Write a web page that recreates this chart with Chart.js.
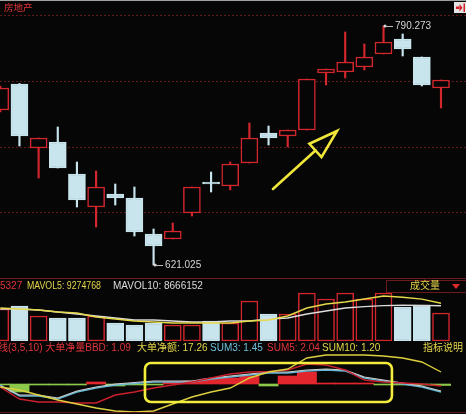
<!DOCTYPE html>
<html>
<head>
<meta charset="utf-8">
<script src="https://cdn.jsdelivr.net/npm/chart.js@4/dist/chart.umd.min.js"></script>
<style>
  html, body { margin: 0; padding: 0; background: #060606; width: 466px; height: 414px; overflow: hidden; }
  canvas { position: absolute; left: 0; }
</style>
</head>
<body>
<canvas id="price" width="466" height="278" style="top:0"></canvas>
<canvas id="vol" width="466" height="63" style="top:278px"></canvas>
<canvas id="ind" width="466" height="73" style="top:341px"></canvas>
<script>
// Daily sessions shown in the window (index = position on the x axis)
const sessions = ['T01','T02','T03','T04','T05','T06','T07','T08','T09','T10','T11','T12',
                  'T13','T14','T15','T16','T17','T18','T19','T20','T21','T22','T23','T24'];

// Real-estate sector index, daily OHLC
const open  = [730.79, 749.20, 703.88, 708.13, 685.47, 662.10, 671.30, 668.47, 642.98, 639.44, 657.85, 679.80,
               676.97, 693.26, 714.50, 712.38, 716.63, 756.99, 757.70, 761.24, 770.44, 781.07, 768.32, 746.37];
const high  = [747.78, 749.55, 710.96, 718.75, 693.97, 687.59, 678.39, 676.26, 646.52, 650.77, 676.26, 686.88,
               693.97, 721.58, 719.46, 716.63, 752.74, 759.82, 786.02, 777.53, 790.273, 784.61, 768.32, 752.03];
const low   = [729.37, 705.30, 682.63, 689.72, 662.10, 647.94, 663.51, 641.56, 621.025, 639.44, 655.73, 672.72,
               674.14, 693.26, 706.00, 704.59, 716.63, 748.49, 753.45, 759.11, 770.44, 769.03, 747.78, 732.21];
const close = [746.37, 712.38, 710.96, 689.72, 667.06, 676.26, 668.47, 644.39, 634.48, 645.10, 676.26, 678.39,
               692.55, 710.96, 710.96, 716.63, 752.74, 759.82, 764.78, 768.32, 778.94, 773.99, 748.49, 752.03];

// Turnover volume and its 5 / 10 day averages
const volume  = [7870000, 8610000, 6150000, 5660000, 5660000, 6150000, 4430000, 3940000, 4430000, 3940000, 3940000, 4920000,
                 4430000, 9840000, 6640000, 6640000, 11810000, 10330000, 11810000, 10330000, 11810000, 8360000, 8860000, 6890000];
const mavol5  = [8120000, 7870000, 7630000, 7130000, 6890000, 5900000, 5410000, 4920000, 4670000, 4430000, 4430000, 4430000,
                 4430000, 4920000, 5170000, 6150000, 8120000, 9100000, 9590000, 10330000, 11070000, 10750000, 10300000, 9274768];
const mavol10 = [7870000, 7870000, 7630000, 7130000, 6640000, 6150000, 5660000, 5170000, 5170000, 4920000, 4670000, 4670000,
                 4920000, 4920000, 5410000, 5660000, 6640000, 7380000, 8120000, 8460000, 8700000, 8800000, 8760000, 8666152];

// Big-order indicator panel: BBD histogram and its running lines
const bbd       = [-0.1, -0.8, -0.1, -0.1, -0.1, 0.2, -0.2, -0.1, -0.1, 0.2, 0.3, 0.5,
                   0.6, 0.8, -0.2, 0.8, 1.2, 0.1, 0.1, 0.1, -0.1, -0.1, -0.1, -0.15];
const netAmount = [-0.3, -0.6, -1.1, -1.6, -2.0, -2.4, -2.7, -2.8, -2.7, -2.0, -1.3, -0.8,
                   -0.4, 0.6, 1.2, 1.5, 2.6, 2.9, 2.9, 2.9, 2.8, 2.6, 2.2, 1.2];
const sum3      = [-0.1, -1.2, -1.2, -1.5, -0.8, -0.4, -0.1, 0.05, 0.2, 0.2, 0.2, 0.5,
                   0.7, 0.9, 1.1, 1.1, 1.3, 1.4, 1.3, 0.6, 0.3, 0.0, -0.3, -0.8];
const sum5      = [-0.3, -1.5, -1.8, -1.8, -1.9, -1.9, -1.1, -0.8, -0.4, -0.1, 0.2, 0.6,
                   1.0, 1.2, 1.25, 1.4, 2.0, 1.9, 1.4, 0.4, 0.2, 0.1, 0.0, -0.2];
const sum10     = [-0.2, -1.1, -1.1, -1.4, -0.7, -0.3, 0.0, 0.15, 0.3, 0.3, 0.3, 0.6,
                   0.8, 1.0, 1.2, 1.2, 1.4, 1.5, 1.4, 0.7, 0.4, 0.1, -0.2, -0.7];

// Readouts shown above the indicator panel
const indicatorTexts = [
  ['线(3,5,10) 大单净量BBD: 1.09', 'red', -2],
  ['大单净额: 17.26', 'yellow', 137],
  ['SUM3: 1.45', 'blue', 210],
  ['SUM5: 2.04', 'red', 267],
  ['SUM10: 1.20', 'yellow', 322],
  ['指标说明', 'yellow', 423]
];

// Annotations in data space
const trendArrow = { from: [14.23, 674.9], to: [17.57, 715.9] };
const focusBox = { x0: 7.55, x1: 20.44, y0: 2.1, y1: -1.8 };

const C = {
  bg: '#060606', red: '#d3262d', blue: '#c8e5ee', yellow: '#e6d94a', white: '#dcdcdc',
  lineBlue: '#62b8d6', grid: '#611a1c', text: { red: '#e0353a', yellow: '#e4d64a', blue: '#6cc0dc', white: '#dcdcdc' }
};
const FONT = '"Liberation Sans", Arial, "Noto Sans CJK SC", sans-serif';
const up = close.map((c, i) => c >= open[i]);
const xScale = { type: 'linear', min: -0.0157, max: 24.305, offset: false, display: false };
const base = {
  responsive: false, animation: false, devicePixelRatio: 1, events: [],
  plugins: { legend: { display: false }, tooltip: { enabled: false } }
};

function label(ctx, s, x, y, color, size, maxW) {
  ctx.font = size + 'px ' + FONT;
  ctx.fillStyle = color;
  ctx.textBaseline = 'middle';
  ctx.textAlign = 'left';
  if (maxW) ctx.fillText(s, x, y, maxW); else ctx.fillText(s, x, y);
}

// ---------- price panel ----------
const pricePanel = {
  id: 'pricePanel',
  beforeDatasetsDraw(chart) {
    const { ctx, chartArea: a } = chart;
    ctx.save();
    ctx.strokeStyle = C.grid; ctx.lineWidth = 1; ctx.setLineDash([2, 2]);
    const top = 15, span = a.bottom - top;
    for (let k = 0; k < 4; k++) {
      const y = Math.round(top + k * span / 4) + 0.5;
      ctx.beginPath(); ctx.moveTo(0, y); ctx.lineTo(a.right, y); ctx.stroke();
    }
    ctx.restore();
  },
  afterDraw(chart) {
    const { ctx } = chart;
    const xs = chart.scales.x, ys = chart.scales.y;
    ctx.save();
    ctx.fillStyle = '#a0a0a0'; ctx.fillRect(0, 0, 466, 1);
    label(ctx, '房地产', 4, 8, C.text.red, 9.5);
    // panel button
    ctx.fillStyle = '#e4e4e4'; ctx.fillRect(454, 2, 12, 11);
    ctx.fillStyle = '#d42028';
    ctx.fillRect(456, 6.5, 3.5, 2.5);
    ctx.beginPath(); ctx.moveTo(459.5, 4); ctx.lineTo(462.5, 7.75); ctx.lineTo(459.5, 11.5); ctx.closePath(); ctx.fill();
    ctx.fillRect(463.5, 3.5, 1.5, 8.5);

    // extremes
    const hi = Math.max(...high), lo = Math.min(...low);
    const hiI = high.indexOf(hi), loI = low.indexOf(lo);
    const mark = (i, v) => {
      const x = xs.getPixelForValue(i) + 1.5, y = ys.getPixelForValue(v);
      ctx.fillStyle = '#d8d8d8';
      ctx.beginPath(); ctx.arc(x, y, 1.6, 0, Math.PI * 2); ctx.fill();
      ctx.strokeStyle = '#bdbdbd'; ctx.lineWidth = 1;
      ctx.beginPath(); ctx.moveTo(x, y + 0.5); ctx.lineTo(x + 8, y + 0.5); ctx.stroke();
      label(ctx, v.toFixed(3), x + 10, y + 0.5, '#d4d4d4', 10);
    };
    mark(hiI, hi);
    mark(loI, lo);

    // trend arrow
    const tx = xs.getPixelForValue(trendArrow.from[0]), ty = ys.getPixelForValue(trendArrow.from[1]);
    const hx = xs.getPixelForValue(trendArrow.to[0]), hy = ys.getPixelForValue(trendArrow.to[1]);
    const len = Math.hypot(hx - tx, hy - ty), ux = (hx - tx) / len, uy = (hy - ty) / len;
    const bx = hx - 29 * ux, by = hy - 29 * uy, px = -uy, py = ux;
    ctx.strokeStyle = '#f0e63a'; ctx.lineWidth = 2.6; ctx.lineJoin = 'miter'; ctx.lineCap = 'round';
    ctx.beginPath(); ctx.moveTo(tx, ty); ctx.lineTo(bx, by); ctx.stroke();
    ctx.beginPath();
    ctx.moveTo(hx, hy); ctx.lineTo(bx + 9 * px, by + 9 * py); ctx.lineTo(bx - 9 * px, by - 9 * py); ctx.closePath();
    ctx.stroke();
    ctx.restore();
  }
};

new Chart(document.getElementById('price'), {
  type: 'bar',
  data: {
    labels: sessions,
    datasets: [
      {
        data: open.map((o, i) => ({ x: i, y: [o, close[i]] })),
        backgroundColor: up.map(u => u ? C.bg : C.blue),
        borderColor: up.map(u => u ? C.red : C.blue),
        borderWidth: 1.5, borderSkipped: false, barThickness: 17, grouped: false, order: 0
      },
      {
        data: low.map((l, i) => ({ x: i, y: [l, high[i]] })),
        backgroundColor: up.map(u => u ? C.red : C.blue),
        borderWidth: 0, barThickness: 1.5, grouped: false, order: 1
      }
    ]
  },
  options: Object.assign({}, base, {
    scales: { x: xScale, y: { display: false, min: 611.819, max: 808.685 } }
  }),
  plugins: [pricePanel]
});

// ---------- volume panel ----------
const volPanel = {
  id: 'volPanel',
  afterDraw(chart) {
    const { ctx } = chart;
    ctx.save();
    ctx.strokeStyle = '#6a1a1c'; ctx.lineWidth = 1;
    ctx.beginPath(); ctx.moveTo(0, 0.5); ctx.lineTo(466, 0.5); ctx.stroke();
    label(ctx, '5327', 0, 8, C.text.red, 10);
    label(ctx, 'MAVOL5: ' + mavol5[mavol5.length - 1], 27, 8, C.text.yellow, 10, 74);
    label(ctx, 'MAVOL10: ' + mavol10[mavol10.length - 1], 113, 8, C.text.white, 10);
    ctx.strokeStyle = '#6a1a1c';
    ctx.strokeRect(386.5, 2.5, 84, 12);
    label(ctx, '成交量', 410, 8.5, C.text.yellow, 10);
    ctx.fillStyle = '#e02a30';
    ctx.beginPath(); ctx.moveTo(452, 6); ctx.lineTo(460, 6); ctx.lineTo(456, 11); ctx.closePath(); ctx.fill();
    ctx.restore();
  }
};

new Chart(document.getElementById('vol'), {
  type: 'bar',
  data: {
    labels: sessions,
    datasets: [
      { type: 'line', data: mavol5.map((v, i) => ({ x: i, y: v })), borderColor: C.yellow, borderWidth: 1.4,
        pointRadius: 0, tension: 0, order: 0 },
      { type: 'line', data: mavol10.map((v, i) => ({ x: i, y: v })), borderColor: C.white, borderWidth: 1.4,
        pointRadius: 0, tension: 0, order: 0 },
      { data: volume.map((v, i) => ({ x: i, y: v })),
        backgroundColor: up.map(u => u ? C.bg : C.blue),
        borderColor: up.map(u => u ? C.red : C.blue),
        borderWidth: 1.5, borderSkipped: false, barThickness: 17, grouped: false, order: 1 }
    ]
  },
  options: Object.assign({}, base, {
    scales: { x: xScale, y: { display: false, min: 0, max: 15498000 } }
  }),
  plugins: [volPanel]
});

// ---------- big-order indicator panel ----------
const indPanel = {
  id: 'indPanel',
  afterDraw(chart) {
    const { ctx } = chart;
    const xs = chart.scales.x, ys = chart.scales.y;
    ctx.save();
    indicatorTexts.forEach(([s, c, x]) => label(ctx, s, x, 7, C.text[c], 10));
    ctx.strokeStyle = '#5a181a'; ctx.lineWidth = 1;
    ctx.beginPath(); ctx.moveTo(0, 71.5); ctx.lineTo(466, 71.5); ctx.stroke();
    // highlighted stretch
    const x0 = xs.getPixelForValue(focusBox.x0), x1 = xs.getPixelForValue(focusBox.x1);
    const y0 = ys.getPixelForValue(focusBox.y0), y1 = ys.getPixelForValue(focusBox.y1);
    ctx.strokeStyle = '#f2ec3c'; ctx.lineWidth = 2.6;
    ctx.beginPath(); ctx.roundRect(x0, y0, x1 - x0, y1 - y0, 6); ctx.stroke();
    ctx.restore();
  }
};

new Chart(document.getElementById('ind'), {
  type: 'bar',
  data: {
    labels: sessions,
    datasets: [
      { type: 'line', data: netAmount.map((v, i) => ({ x: i, y: v })), borderColor: '#ddd040', borderWidth: 1.4,
        pointRadius: 0, tension: 0, order: 0 },
      { type: 'line', data: sum5.map((v, i) => ({ x: i, y: v })), borderColor: '#c8202c', borderWidth: 1.4,
        pointRadius: 0, tension: 0, order: 0 },
      { type: 'line', data: sum10.map((v, i) => ({ x: i, y: v })), borderColor: '#cfcfcf', borderWidth: 1.2,
        pointRadius: 0, tension: 0, order: 0 },
      { type: 'line', data: sum3.map((v, i) => ({ x: i, y: v })), borderColor: C.lineBlue, borderWidth: 1.4,
        pointRadius: 0, tension: 0, order: 0 },
      { data: bbd.map((v, i) => ({ x: i, y: v })),
        backgroundColor: bbd.map(v => v >= 0 ? '#e2262e' : '#8cc84a'),
        borderWidth: 0, barThickness: 19.3, grouped: false, order: 1 }
    ]
  },
  options: Object.assign({}, base, {
    layout: { padding: { top: 9 } },
    scales: { x: xScale, y: { display: false, min: -3.0, max: 3.4 } }
  }),
  plugins: [indPanel]
});
</script>
</body>
</html>
